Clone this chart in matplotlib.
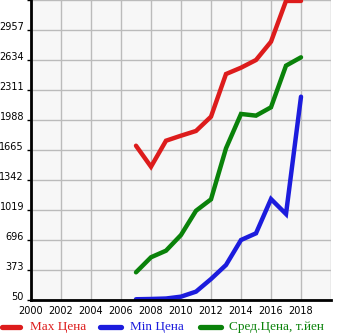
import numpy as np
import matplotlib
matplotlib.use('Agg')
import matplotlib.pyplot as plt
from matplotlib.lines import Line2D
import matplotlib.transforms as mtransforms

years = [2007, 2008, 2009, 2010, 2011, 2012, 2013, 2014, 2015, 2016, 2017, 2018]
max_price = [1711, 1485, 1765, 1819, 1870, 2024, 2483, 2551, 2634, 2831, 3270, 3270]
min_price = [58, 61, 66, 86, 140, 276, 427, 696, 768, 1137, 976, 2239]
avg_price = [348, 510, 581, 750, 1011, 1134, 1683, 2053, 2035, 2125, 2573, 2663]

yticks = [50, 373, 696, 1019, 1342, 1665, 1988, 2311, 2634, 2957]
xticks = list(range(2000, 2020, 2))
labels = ['Max Цена', 'Min Цена', 'Сред.Цена, т.йен']
colors = ['#dd1c1c', '#1c1cdd', '#0a820a']

W, H = 345, 335
fig = plt.figure(figsize=(W/100, H/100), dpi=100)
ax = fig.add_axes([31/W, 35/H, 300/W, 300/H])
ax.set_facecolor('#f7f7f7')

for vals, c in zip([max_price, min_price, avg_price], colors):
    ax.plot(years, vals, color=c, lw=3.2, solid_capstyle='round', solid_joinstyle='miter')

ax.set_xlim(2000, 2020)
ax.set_ylim(50, 3280)
ax.set_xticks(xticks + [2020])
ax.set_xticklabels([str(x) for x in xticks] + [''])
ax.set_yticks(yticks + [3280])
ax.set_yticklabels([str(y) for y in yticks] + [''])
ax.grid(True, color='#bbbbbb', lw=1)
ax.set_axisbelow(True)

for s in ['top', 'right']:
    ax.spines[s].set_visible(False)
ax.spines['left'].set_linewidth(2)
ax.spines['bottom'].set_linewidth(2)

ax.tick_params(axis='y', length=3, width=1, pad=2, labelsize=7)
ax.tick_params(axis='x', length=0, pad=4, labelsize=7)
off = mtransforms.ScaledTranslation(0, 4/100, fig.dpi_scale_trans)
for t in ax.get_yticklabels():
    t.set_transform(t.get_transform() + off)

# legend drawn by hand (pixel positions from the left edge)
leg_y = 1 - 327/H
handle_x = [(2, 20), (100, 121), (200, 221)]
text_x = [30, 130, 229]
for (x0, x1), tx, lab, c in zip(handle_x, text_x, labels, colors):
    fig.add_artist(Line2D([x0/W, x1/W], [leg_y, leg_y], transform=fig.transFigure,
                          color=c, lw=3.8, solid_capstyle='round'))
    fig.text(tx/W, leg_y, lab, color=c, ha='left', va='center',
             family='Liberation Serif', fontsize=9.5)

fig.savefig('out.png', dpi=100)
